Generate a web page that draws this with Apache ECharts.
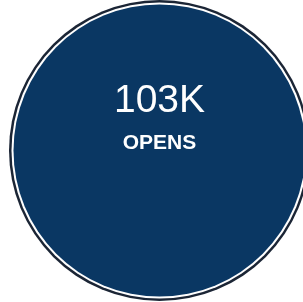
<!DOCTYPE html>
<html>
<head>
<meta charset="utf-8">
<script src="https://cdn.jsdelivr.net/npm/echarts@6/dist/echarts.min.js"></script>
<style>
  html, body { margin: 0; padding: 0; background: #fff; }
  #main { width: 303px; height: 302px; }
</style>
</head>
<body>
<div id="main"></div>
<script>
// kpi bubble data
var metricNames = ['OPENS'];
var metricValues = [103000];

function shortNum(v) {
    if (v >= 1000) return Math.round(v / 1000) + 'K';
    return '' + v;
}

var chart = echarts.init(document.getElementById('main'));
var cx = 159.5, cy = 150.5;

var option = {
    animation: false,
    series: [
        {   // outer dark ring
            type: 'pie', silent: true, center: [cx, cy], radius: [0, 150.5],
            label: { show: false }, labelLine: { show: false },
            itemStyle: { color: '#1b2535' },
            data: [{ name: 'ring', value: metricValues[0] }]
        },
        {   // white gap
            type: 'pie', silent: true, center: [cx, cy], radius: [0, 148],
            label: { show: false }, labelLine: { show: false },
            itemStyle: { color: '#ffffff' },
            data: [{ name: 'gap', value: metricValues[0] }]
        },
        {
            type: 'pie', silent: true, center: [cx, cy], radius: [0, 146],
            itemStyle: { color: '#0a3763' },
            labelLine: { show: false },
            label: {
                show: true,
                position: 'center',
                offset: [0, -32],
                formatter: function (p) {
                    return '{v|' + shortNum(p.value) + '}\n{n|' + p.name + '}';
                },
                rich: {
                    v: { color: '#fff', fontSize: 39, lineHeight: 50, fontFamily: 'Liberation Sans, Arial, sans-serif' },
                    n: { color: '#fff', fontSize: 21, fontWeight: 'bold', lineHeight: 34, fontFamily: 'Liberation Sans, Arial, sans-serif' }
                }
            },
            data: metricNames.map(function (n, i) { return { name: n, value: metricValues[i] }; })
        }
    ]
};
chart.setOption(option);
</script>
</body>
</html>
